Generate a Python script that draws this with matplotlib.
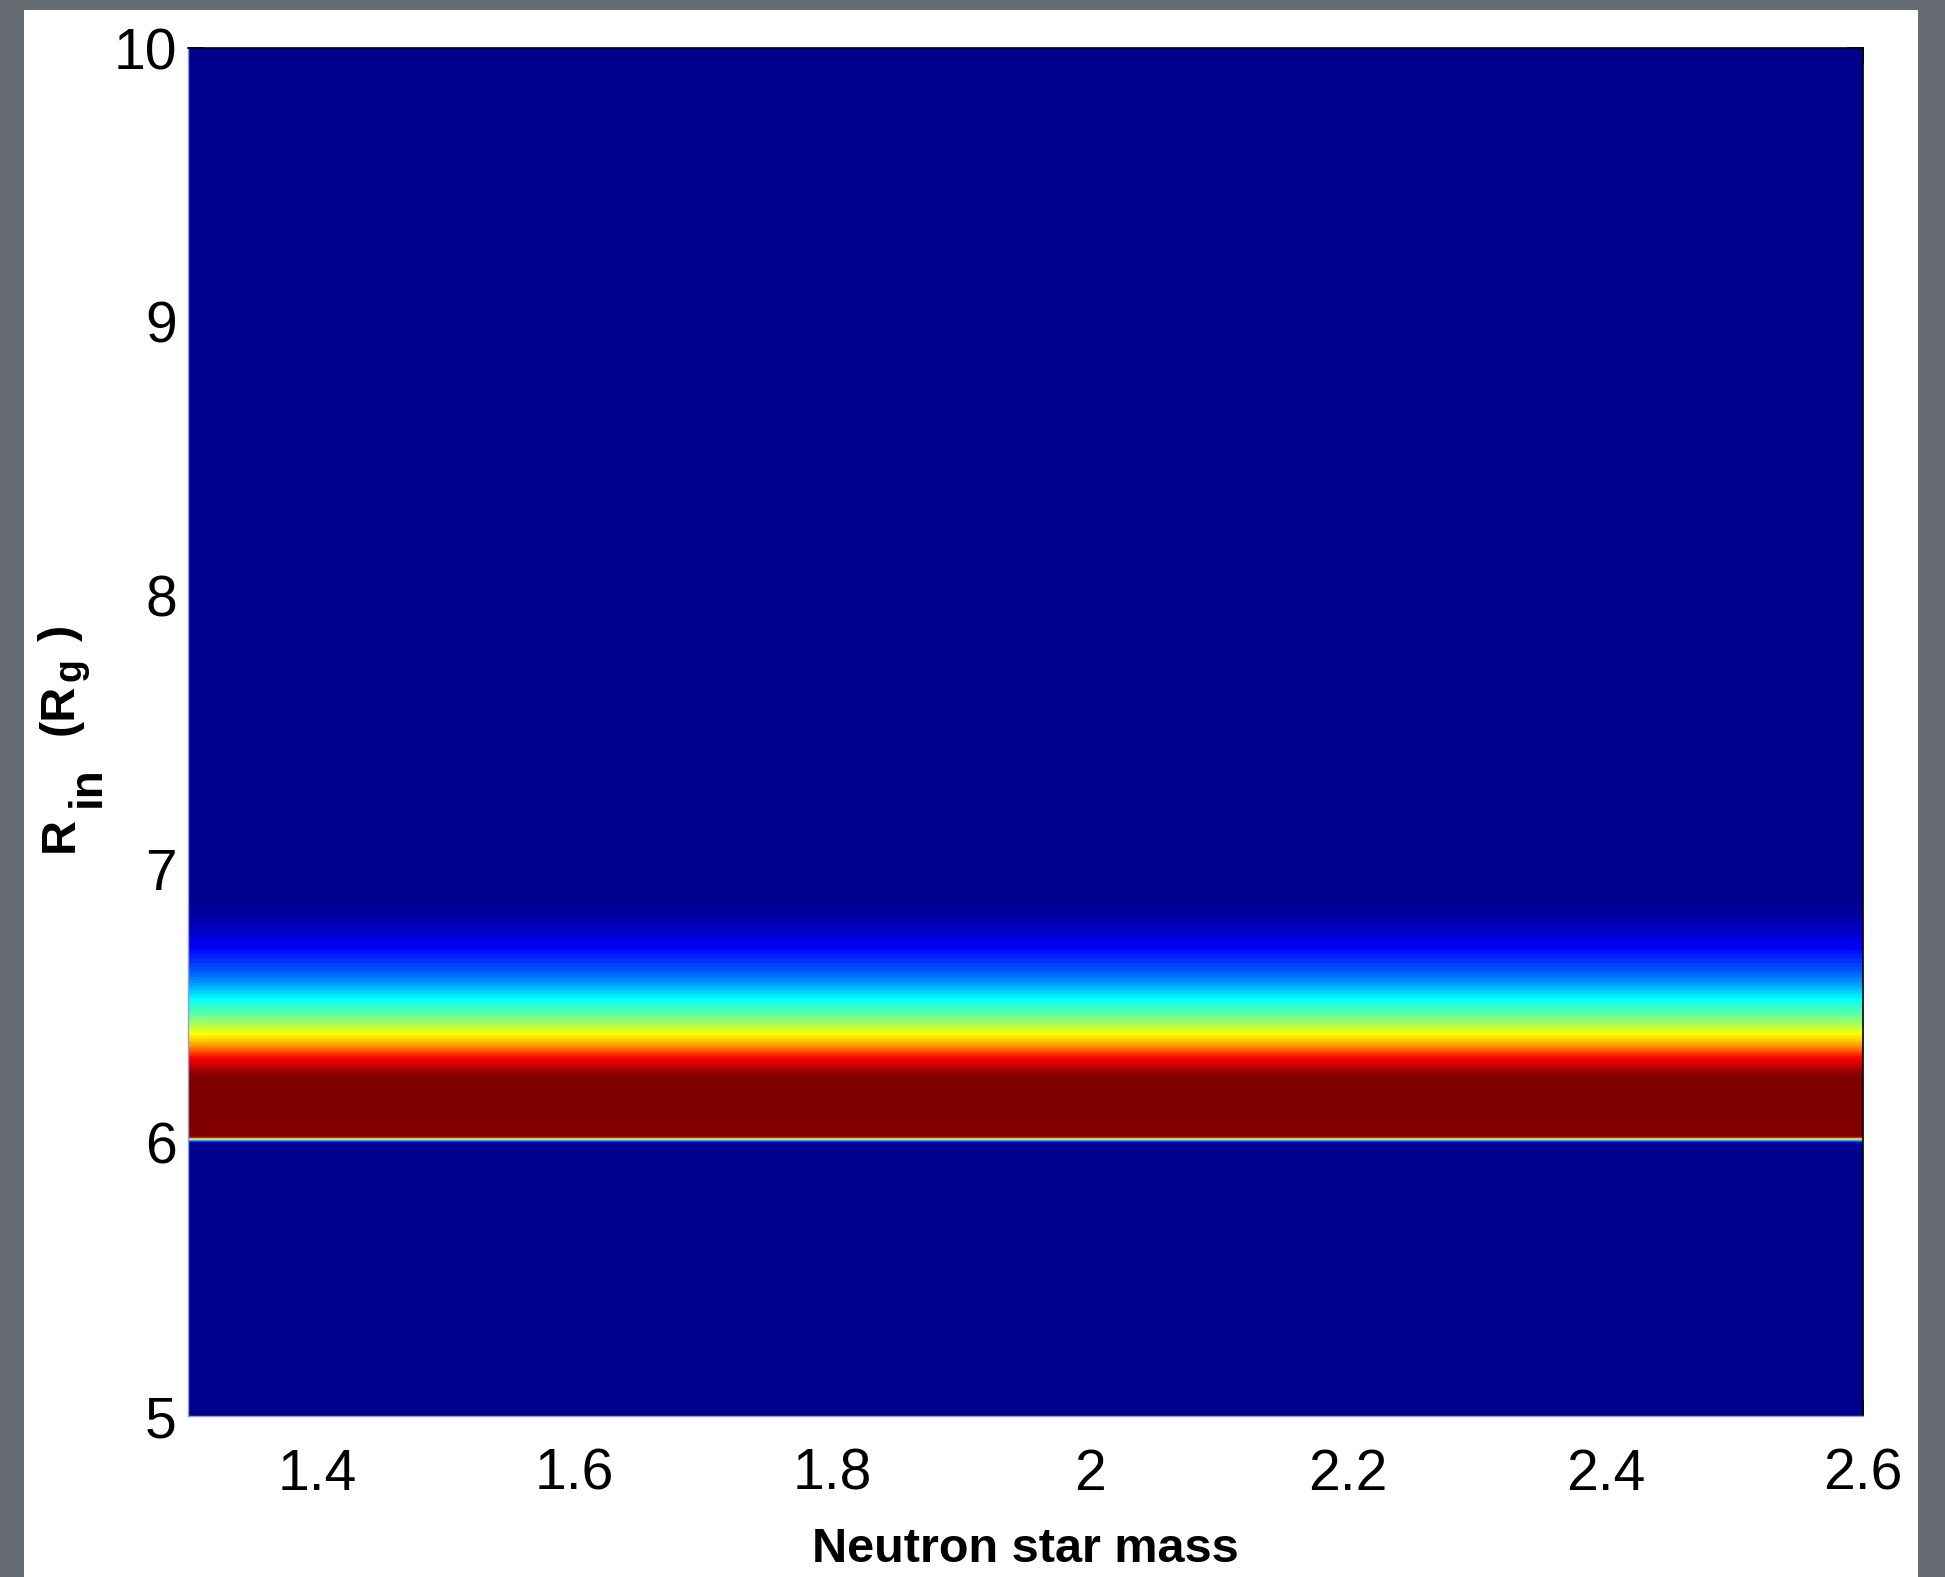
import numpy as np
import matplotlib
matplotlib.use("Agg")
import matplotlib.pyplot as plt
from matplotlib.colors import ListedColormap
from matplotlib.patches import Rectangle

# mass grid (x) and the R_in profile (same for every mass)
mass = [1.3, 1.5, 1.7, 1.9, 2.1, 2.3, 2.5, 2.6]
r_in = [5.0, 5.995, 6.002, 6.009, 6.016, 6.022, 6.24, 6.27, 6.308, 6.33,
        6.352, 6.373, 6.393, 6.42, 6.447, 6.473, 6.52, 6.557, 6.594, 6.63,
        6.667, 6.703, 6.74, 6.776, 6.82, 6.86, 6.92, 10.0]
prob = [0.0, 0.0, 0.14, 0.38, 0.78, 1.0, 1.0, 0.94, 0.87, 0.8,
        0.72, 0.67, 0.625, 0.56, 0.5, 0.45, 0.375, 0.31, 0.25, 0.2,
        0.16, 0.125, 0.09, 0.06, 0.035, 0.015, 0.0, 0.0]

xticks = [1.4, 1.6, 1.8, 2.0, 2.2, 2.4, 2.6]
xticklabels = ["1.4", "1.6", "1.8", "2", "2.2", "2.4", "2.6"]
yticks = [5, 6, 7, 8, 9, 10]

W, H = 1945, 1577


def matlab_jet(n=64):
    # same construction as matlab's jet(n)
    m = n // 4
    u = np.r_[np.arange(1, m + 1) / m, np.ones(m - 1), np.arange(m, 0, -1) / m]
    idx = np.arange(len(u))
    g = int(np.ceil(m / 2)) + idx
    r = g + m
    b = g - m
    J = np.zeros((n, 3))
    ok = r < n
    J[r[ok], 0] = u[ok]
    J[g, 1] = u
    ok = b >= 0
    J[b[ok], 2] = u[ok]
    return ListedColormap(J)


plt.rcParams["font.family"] = ["Liberation Sans", "DejaVu Sans"]

fig = plt.figure(figsize=(W / 100, H / 100), dpi=100, facecolor="#666a73")
# white slide panel behind the plot
fig.patches.append(Rectangle((24 / W, 0), 1894 / W, 1567 / H,
                             transform=fig.transFigure, facecolor="white",
                             edgecolor="none", zorder=-5))
ax = fig.add_axes([188 / W, 1 - 1416 / H, 1675 / W, 1368 / H])

Z = np.tile(np.array(prob)[:, None], (1, len(mass)))
ax.contourf(mass, r_in, Z, levels=np.linspace(0, 1, 65), cmap=matlab_jet(64))

ax.set_xlim(1.3, 2.6)
ax.set_ylim(5, 10)
ax.set_axisbelow(True)
ax.set_xticks(xticks)
ax.set_xticklabels(xticklabels)
ax.set_yticks(yticks)
ax.tick_params(direction="in", length=11.5, width=1.2, top=True, right=True,
               labelsize=41)
ax.tick_params(axis="x", pad=23)
ax.tick_params(axis="y", pad=8)

for s in ["top", "right"]:
    ax.spines[s].set_color("black")
    ax.spines[s].set_linewidth(1.2)
for s in ["left", "bottom"]:
    ax.spines[s].set_color("#9a9ad6")
    ax.spines[s].set_linewidth(1.0)

ax.set_xlabel("Neutron star mass", fontsize=35, fontweight="bold")
ax.xaxis.set_label_coords(0.5, -(1527 - 1416) / 1368)

# y label, matlab style: R_in (R_g ) with a full size "in" subscript
ylab = [("R", 35, 73, 852), ("in", 33, 100, 807), ("(R", 35, 73, 735),
        ("g", 27, 80, 681), (")", 35, 73, 641)]
for txt, size, px, py in ylab:
    fig.text(px / W, 1 - py / H, txt, fontsize=size, fontweight="bold",
             rotation=90, rotation_mode="anchor", ha="left", va="baseline")

fig.savefig("out.png", dpi=100, facecolor=fig.get_facecolor())
